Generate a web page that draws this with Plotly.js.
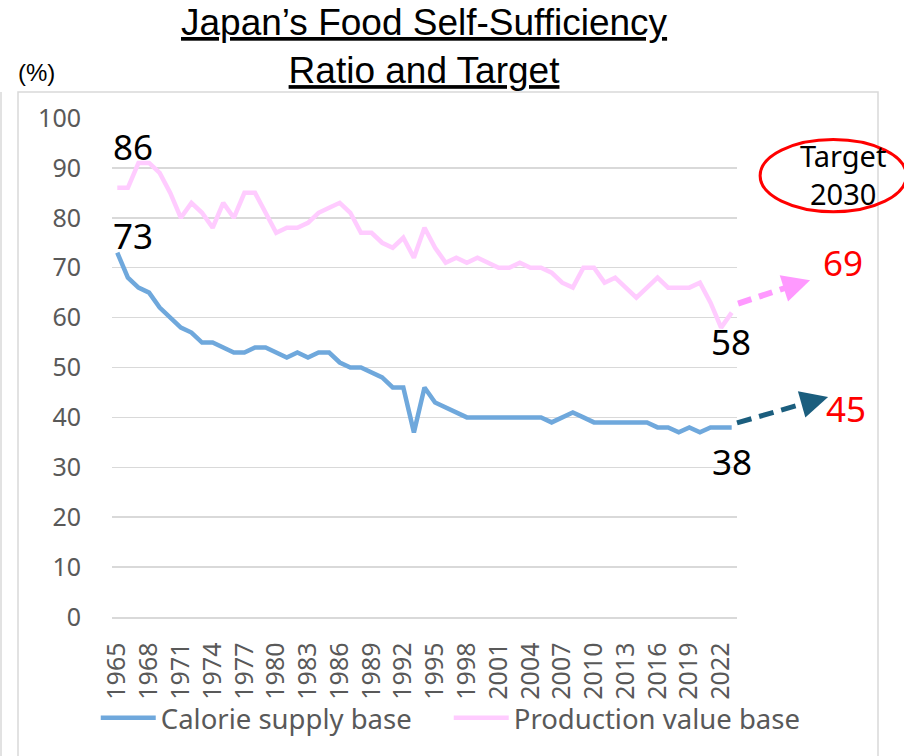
<!DOCTYPE html>
<html>
<head>
<meta charset="utf-8">
<script src="https://cdn.plot.ly/plotly-3.0.1.min.js"></script>
<style>
  html, body { margin: 0; padding: 0; background: #ffffff; }
  #chart { width: 904px; height: 756px; }
</style>
</head>
<body>
<div id="chart"></div>
<script>
// ---- Data ----
const years = [1965,1966,1967,1968,1969,1970,1971,1972,1973,1974,1975,1976,1977,1978,1979,
  1980,1981,1982,1983,1984,1985,1986,1987,1988,1989,1990,1991,1992,1993,1994,1995,1996,1997,
  1998,1999,2000,2001,2002,2003,2004,2005,2006,2007,2008,2009,2010,2011,2012,2013,2014,2015,
  2016,2017,2018,2019,2020,2021,2022,2023];
const calorieBase = [73,68,66,65,62,60,58,57,55,55,54,53,53,54,54,
  53,52,53,52,53,53,51,50,50,49,48,46,46,37,46,43,42,41,
  40,40,40,40,40,40,40,40,39,40,41,40,39,39,39,39,39,39,
  38,38,37,38,37,38,38,38];
const productionBase = [86,86,91,91,89,85,80,83,81,78,83,80,85,85,81,
  77,78,78,79,81,82,83,81,77,77,75,74,76,72,78,74,71,72,
  71,72,71,70,70,71,70,70,69,67,66,70,70,67,68,66,64,66,
  68,66,66,66,67,63,58,61];
const tickYears = [1965,1968,1971,1974,1977,1980,1983,1986,1989,1992,1995,1998,2001,2004,2007,2010,2013,2016,2019,2022];
const seriesNames = ["Calorie supply base", "Production value base"];
const targetYear = 2030;
const targetCalorie = 45;
const targetProduction = 69;
const latestCalorie = 38;
const latestProduction = 58;
const titleLine1 = "Japan’s Food Self-Sufficiency";
const titleLine2 = "Ratio and Target";

// ---- Axis ranges (category-style padding) ----
const xRange = [1964.5, 2023.5];
const yRange = [0, 100];
// convert data-like coordinates to paper fractions (for marks drawn outside the plot area)
const px = v => (v - xRange[0]) / (xRange[1] - xRange[0]);
const py = v => (v - yRange[0]) / (yRange[1] - yRange[0]);

const blue = "#6fa8dc";
const pink = "#ffccff";
const grey = "#595959";

const traces = [
  { x: years, y: calorieBase, name: seriesNames[0], type: "scatter", mode: "lines",
    line: { color: blue, width: 4.5 } },
  { x: years, y: productionBase, name: seriesNames[1], type: "scatter", mode: "lines",
    line: { color: pink, width: 4.5 } }
];

const FONT = "Noto Sans, DejaVu Sans, sans-serif";
const ARIAL = "Liberation Sans, Arial, sans-serif";

function label(text, x, y, size, color, ref) {
  return { text: text, x: x, y: y, xref: ref || "paper", yref: ref === "x" ? "y" : "paper",
    xanchor: "center", yanchor: "middle", showarrow: false,
    font: { family: FONT, size: size, color: color } };
}

const layout = {
  width: 904, height: 756,
  margin: { l: 112, r: 167, t: 118, b: 139, autoexpand: false },
  paper_bgcolor: "#ffffff", plot_bgcolor: "#ffffff",
  showlegend: true,
  xaxis: {
    range: xRange, tickmode: "array", tickvals: tickYears, ticktext: tickYears.map(String),
    tickangle: -90, showgrid: false, zeroline: false, showline: true, linecolor: "#d9d9d9", linewidth: 1.5,
    ticks: "", ticklabelstandoff: 14, automargin: false,
    tickfont: { family: FONT, size: 25, color: grey }, fixedrange: true
  },
  yaxis: {
    range: yRange, tickvals: [0,10,20,30,40,50,60,70,80,90,100],
    showgrid: true, gridcolor: "#d9d9d9", gridwidth: 1.5, zeroline: false, showline: false,
    ticks: "", ticklabelstandoff: 30, automargin: false,
    tickfont: { family: FONT, size: 25, color: grey }, fixedrange: true
  },
  legend: {
    orientation: "h", xref: "paper", yref: "paper",
    x: -0.026, xanchor: "left", y: -0.2024, yanchor: "middle",
    font: { family: FONT, size: 27.5, color: grey }, itemwidth: 55, traceorder: "normal",
    entrywidthmode: "pixels", entrywidth: 283,
    bgcolor: "rgba(0,0,0,0)"
  },
  shapes: [
    // outer chart-area border
    { type: "rect", xref: "paper", yref: "paper", x0: -0.1504, x1: 1.2256, y0: -0.30, y1: 1.052,
      line: { color: "#d9d9d9", width: 1.5 }, fillcolor: "rgba(0,0,0,0)", layer: "below" },
    { type: "line", xref: "paper", yref: "paper", x0: -0.1776, x1: -0.1776, y0: -0.30, y1: 1.052,
      line: { color: "#d9d9d9", width: 1.5 }, layer: "below" },
    // dashed target arrows
    { type: "line", xref: "paper", yref: "paper",
      x0: px(2023.6), y0: py(62.8), x1: px(2029.4), y1: py(66.9),
      line: { color: "#ff99ff", width: 6, dash: "14px,8px" } },
    { type: "line", xref: "paper", yref: "paper",
      x0: px(2023.5), y0: py(38.9), x1: px(2031.0), y1: py(43.5),
      line: { color: "#1b5e7e", width: 5, dash: "15px,8px" } },
    // red ellipse around target label
    { type: "circle", xref: "paper", yref: "paper", x0: 1.037, x1: 1.271, y0: 0.812, y1: 0.957,
      line: { color: "#ff0000", width: 3 }, fillcolor: "rgba(0,0,0,0)" }
  ],
  annotations: [
    { text: "<u>" + titleLine1 + "</u><br><u>" + titleLine2 + "</u>", xref: "paper", yref: "paper",
      x: 0.5, y: 1.2365, xanchor: "center", yanchor: "top", showarrow: false,
      font: { family: ARIAL, size: 37, color: "#000000" } },
    { text: "(%)", xref: "paper", yref: "paper", x: -0.1216, y: py((617 - 72) / 4.99),
      xanchor: "center", yanchor: "middle", showarrow: false,
      font: { family: ARIAL, size: 24, color: "#000000" } },
    label(String(productionBase[0]), 1966.5, 94.2, 35, "#000000", "x"),
    label(String(calorieBase[0]), 1966.5, 76.5, 35, "#000000", "x"),
    label(String(latestProduction), 2022.9, 55.3, 35, "#000000", "x"),
    label(String(latestCalorie), 2023.0, 31.1, 35, "#000000", "x"),
    label(String(targetProduction), px(2033.5), py(71.1), 35, "#ff0000"),
    label(String(targetCalorie), px(2033.8), py(41.7), 35, "#ff0000"),
    label("Target<br>" + targetYear, px(2033.5), py(88.6), 29, "#000000"),
    // arrowheads
    { text: "", x: px(2030.4), y: py(67.5), xref: "paper", yref: "paper", showarrow: true, arrowhead: 2,
      arrowsize: 1.1, arrowwidth: 5, arrowcolor: "#ff99ff", ax: -9.5, ay: 3, standoff: 0 },
    { text: "", x: px(2032.1), y: py(44.1), xref: "paper", yref: "paper", showarrow: true, arrowhead: 2,
      arrowsize: 1.1, arrowwidth: 5, arrowcolor: "#1b5e7e", ax: -9.6, ay: 2.7, standoff: 0 }
  ]
};

Plotly.newPlot("chart", traces, layout, { displayModeBar: false, staticPlot: true });
</script>
</body>
</html>
